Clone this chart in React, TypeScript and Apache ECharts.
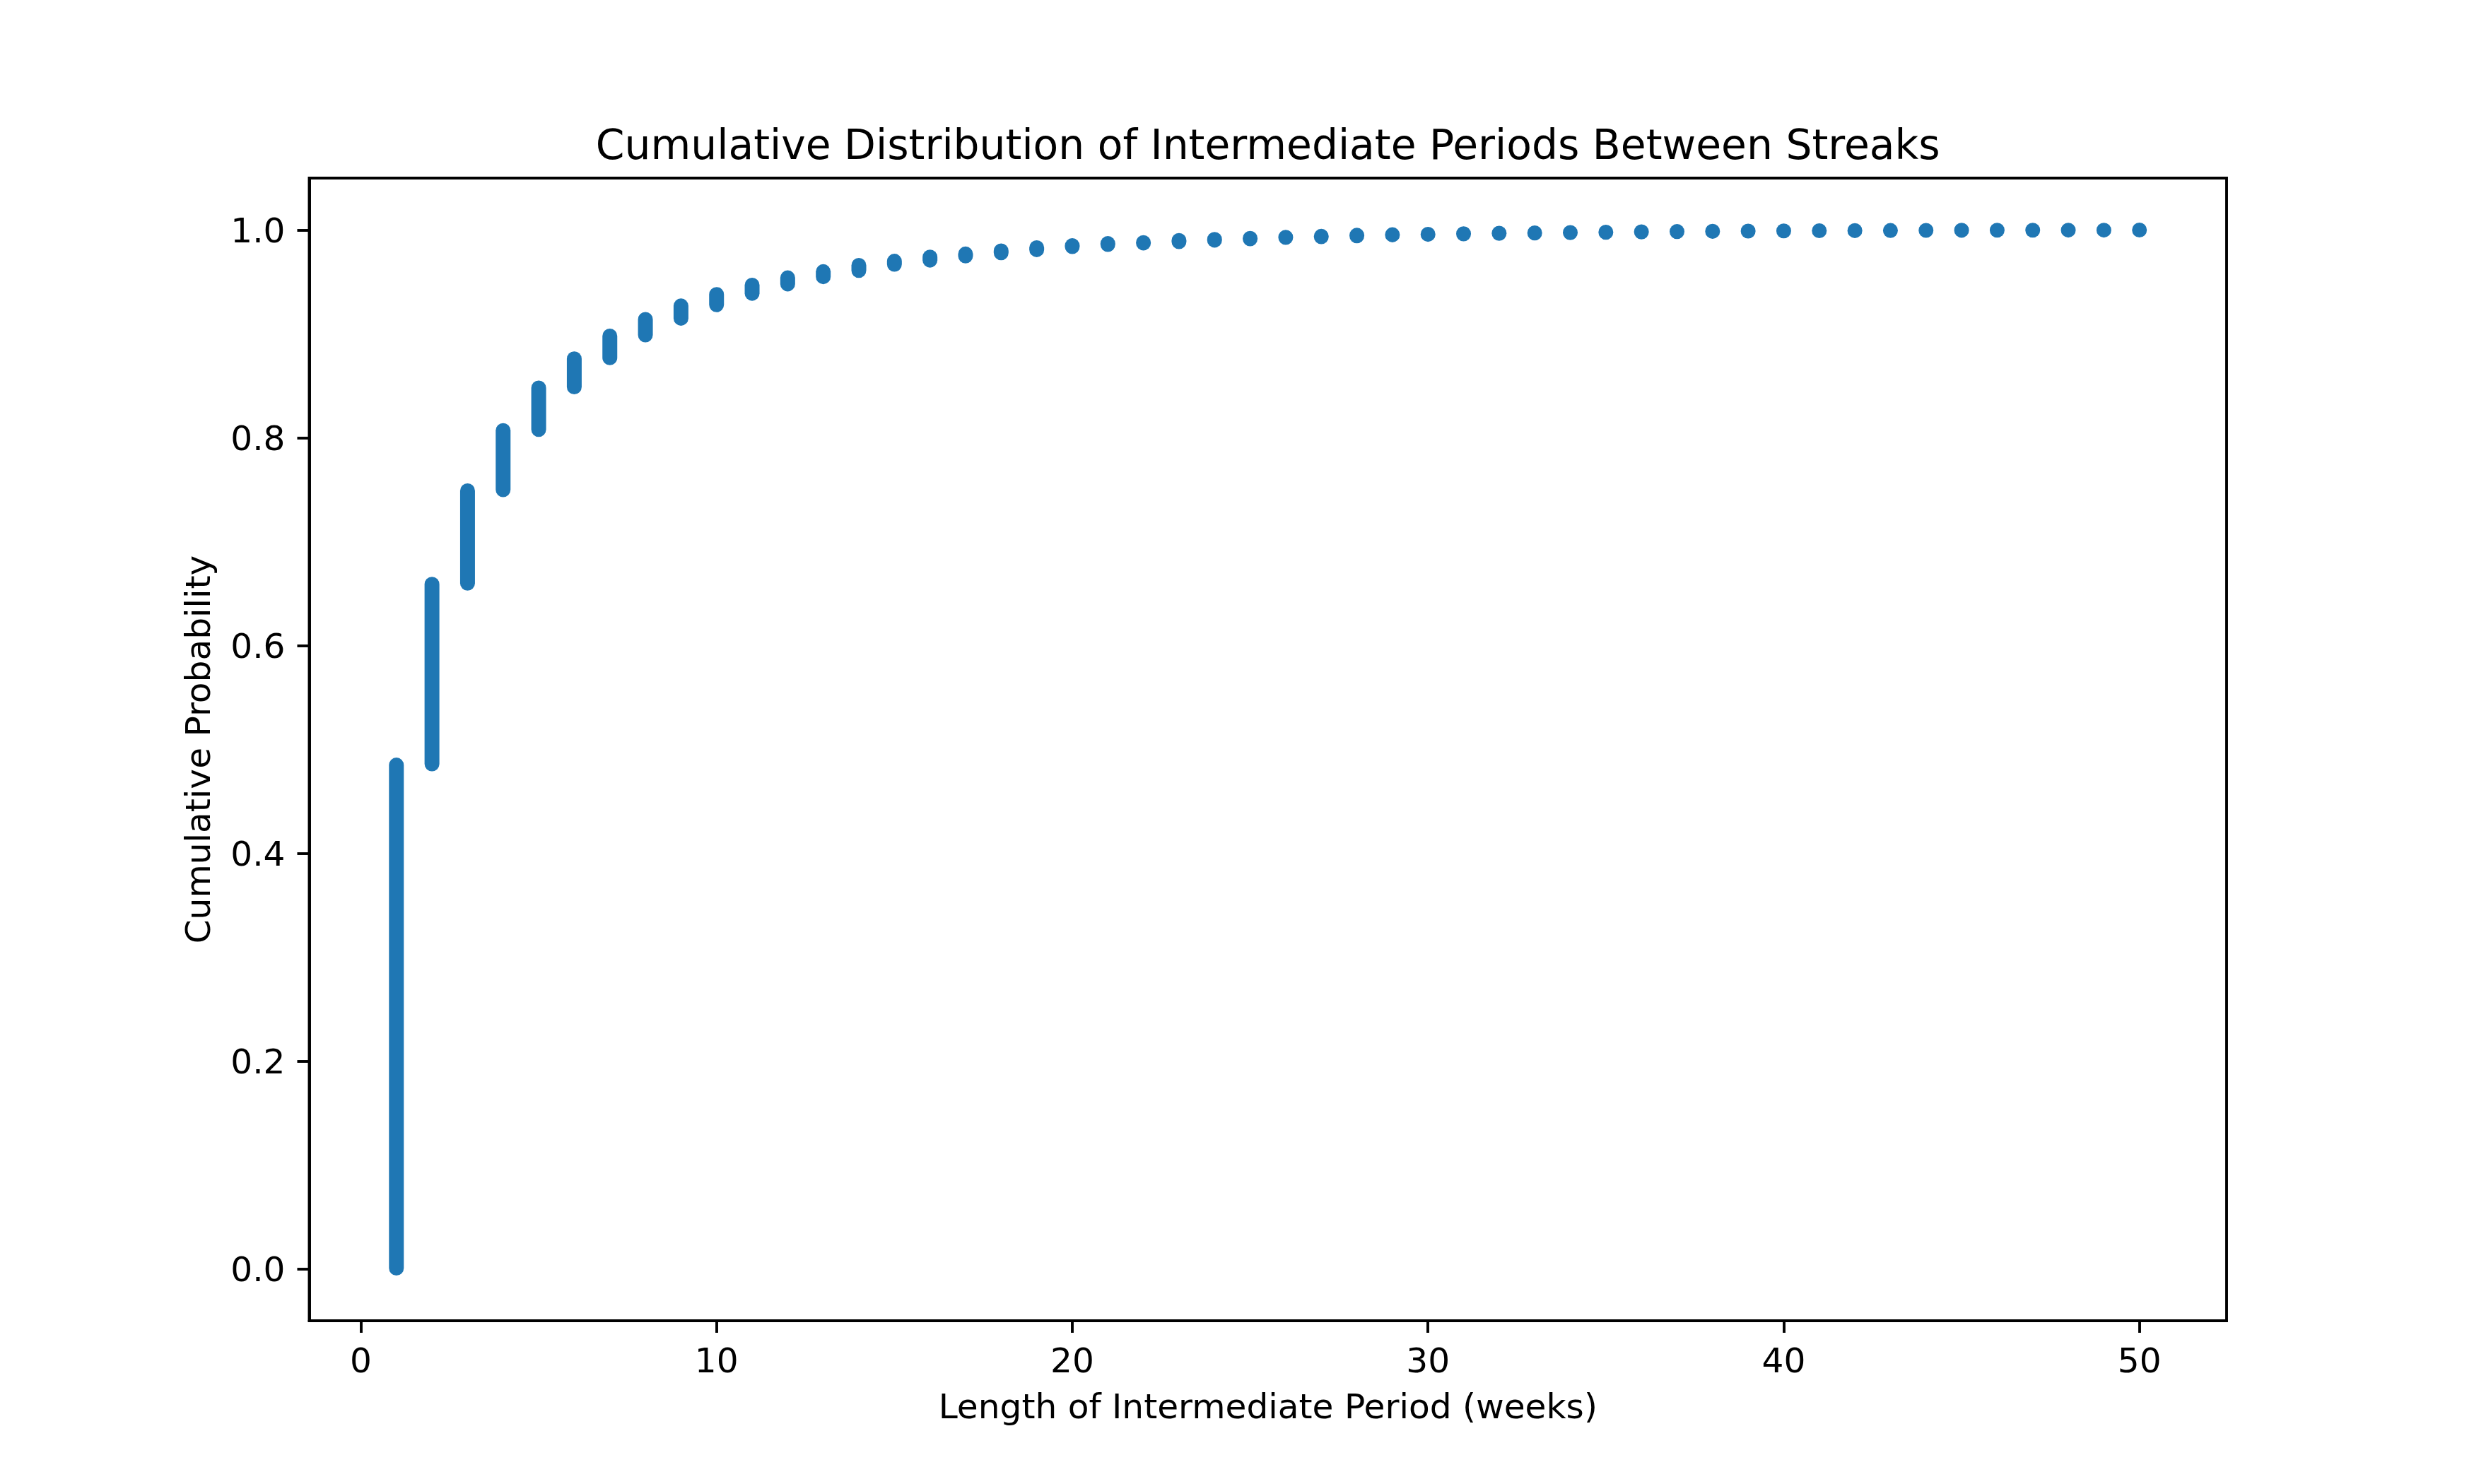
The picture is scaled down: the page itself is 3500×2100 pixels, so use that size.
import React, { useEffect, useRef } from "react";
import * as echarts from "echarts";

const weeks = [
  1, 2, 3, 4, 5, 6, 7, 8, 9, 10, 11, 12, 13, 14, 15, 16, 17, 18, 19, 20, 21, 22, 23, 24, 25,
  26, 27, 28, 29, 30, 31, 32, 33, 34, 35, 36, 37, 38, 39, 40, 41, 42, 43, 44, 45, 46, 47, 48, 49, 50,
];
// Upper end of the stacked points at each week (cumulative probability reached at that week)
const highProb = [
  0.485, 0.659, 0.749, 0.807, 0.848, 0.876, 0.898, 0.914, 0.927, 0.938, 0.947, 0.954, 0.96, 0.966,
  0.97, 0.974, 0.977, 0.98, 0.983, 0.985, 0.987, 0.988, 0.99, 0.991, 0.992, 0.993, 0.994, 0.995,
  0.9955, 0.996, 0.9965, 0.997, 0.9973, 0.9976, 0.998, 0.9983, 0.9986, 0.9988, 0.999, 0.9992,
  0.9994, 0.9995, 0.9996, 0.9997, 0.9998, 0.9998, 0.9999, 0.9999, 0.9999, 1.0,
];
// Lower end of the stacked points at each week
const lowProb = [
  0.0007, 0.486, 0.66, 0.75, 0.808, 0.849, 0.877, 0.899, 0.915, 0.928, 0.939, 0.948, 0.955, 0.961,
  0.967, 0.971, 0.975, 0.978, 0.981, 0.984, 0.986, 0.9875, 0.9888, 0.9902, 0.9915, 0.9928, 0.9935,
  0.9944, 0.9953, 0.9958, 0.9962, 0.9967, 0.9971, 0.9974, 0.9978, 0.9981, 0.9984, 0.9987, 0.9989,
  0.9991, 0.9993, 0.9994, 0.9995, 0.9996, 0.9997, 0.9998, 0.9998, 0.9999, 0.9999, 1.0,
];
const xTicks = [0, 10, 20, 30, 40, 50];
const yTicks = [0, 0.2, 0.4, 0.6, 0.8, 1.0];

const TITLE = "Cumulative Distribution of Intermediate Periods Between Streaks";
const X_LABEL = "Length of Intermediate Period (weeks)";
const Y_LABEL = "Cumulative Probability";

const W = 3500;
const H = 2100;
const LEFT = 437.5;
const RIGHT = 3150;
const TOP = 252;
const BOTTOM = 1869;
const FONT = "DejaVu Sans";
const COLOR = "#1f77b4";

export default function App() {
  const ref = useRef<HTMLDivElement>(null);
  useEffect(() => {
    if (!ref.current) return;
    const chart = echarts.init(ref.current, undefined, { renderer: "svg", width: W, height: H });
    const data = weeks.map((w, i) => [w, lowProb[i], highProb[i]]);
    const r = 10.5;
    chart.setOption({
      animation: false,
      backgroundColor: "#ffffff",
      grid: {
        left: LEFT,
        right: W - RIGHT,
        top: TOP,
        bottom: H - BOTTOM,
        show: true,
        borderColor: "#000000",
        borderWidth: 3.9,
        backgroundColor: "transparent",
      },
      xAxis: {
        type: "value",
        min: -1.45,
        max: 52.45,
        splitLine: { show: false },
        axisLine: { show: true, onZero: false, lineStyle: { color: "#000", width: 3.9 } },
        axisTick: { show: true, length: 17, lineStyle: { color: "#000", width: 3.9 }, customValues: xTicks },
        axisLabel: {
          show: true,
          customValues: xTicks,
          margin: 31,
          fontFamily: FONT,
          fontSize: 48.6,
          color: "#000",
          formatter: (v: number) => String(v),
        },
      },
      yAxis: {
        type: "value",
        min: -0.05,
        max: 1.05,
        splitLine: { show: false },
        axisLine: { show: true, onZero: false, lineStyle: { color: "#000", width: 3.9 } },
        axisTick: { show: true, length: 17, lineStyle: { color: "#000", width: 3.9 }, customValues: yTicks },
        axisLabel: {
          show: true,
          customValues: yTicks,
          margin: 34,
          fontFamily: FONT,
          fontSize: 48.6,
          color: "#000",
          formatter: (v: number) => v.toFixed(1),
        },
      },
      series: [
        {
          type: "custom",
          data,
          renderItem: (params: any, api: any) => {
            const x = api.value(0);
            const lo = api.coord([x, api.value(1)]);
            const hi = api.coord([x, api.value(2)]);
            return {
              type: "rect",
              shape: {
                x: lo[0] - r,
                y: hi[1] - r,
                width: 2 * r,
                height: lo[1] - hi[1] + 2 * r,
                r: r,
              },
              style: { fill: COLOR },
            };
          },
        },
      ],
      graphic: [
        {
          type: "text",
          x: (LEFT + RIGHT) / 2,
          y: 205,
          style: {
            text: TITLE,
            fontFamily: FONT,
            fontSize: 58.3,
            fill: "#000",
            align: "center",
            verticalAlign: "middle",
          },
        },
        {
          type: "text",
          x: (LEFT + RIGHT) / 2,
          y: 1990,
          style: {
            text: X_LABEL,
            fontFamily: FONT,
            fontSize: 48.6,
            fill: "#000",
            align: "center",
            verticalAlign: "middle",
          },
        },
        {
          type: "text",
          x: 279.5,
          y: (TOP + BOTTOM) / 2,
          rotation: Math.PI / 2,
          style: {
            text: Y_LABEL,
            fontFamily: FONT,
            fontSize: 48.6,
            fill: "#000",
            align: "center",
            verticalAlign: "middle",
          },
        },
      ],
    });
    return () => chart.dispose();
  }, []);
  return (
    <div
      ref={ref}
      style={{ position: "absolute", left: 0, top: 0, width: W, height: H, background: "#fff" }}
    />
  );
}
